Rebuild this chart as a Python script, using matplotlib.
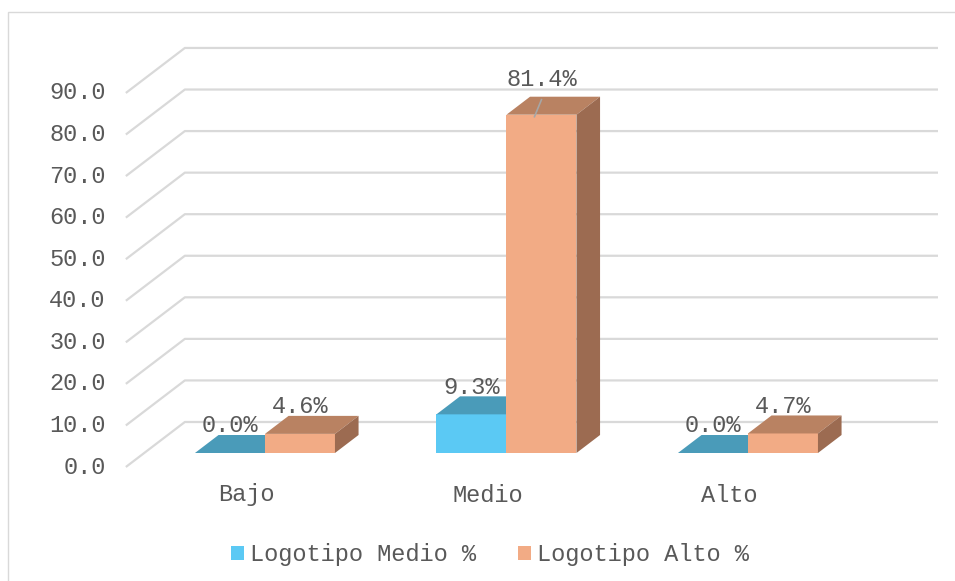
import matplotlib
matplotlib.use("Agg")
import matplotlib.pyplot as plt
from matplotlib.patches import Polygon, Rectangle, Patch

# data
categories = ["Bajo", "Medio", "Alto"]
series_names = ["Logotipo Medio %", "Logotipo Alto %"]
medio_vals = [0.0, 9.3, 0.0]
alto_vals = [4.6, 81.4, 4.7]
y_ticks = [0, 10, 20, 30, 40, 50, 60, 70, 80, 90]

# front / top / side colours of each series
blue = ("#5BC9F4", "#4A9BB9", "#3F7F99")
orange = ("#F2AB85", "#B98262", "#9C6B51")
grid_col = "#D9D9D9"
txt_col = "#595959"
FS = 17
plt.rcParams["font.family"] = ["Liberation Mono", "DejaVu Sans Mono"]

W, H = 955, 581
fig = plt.figure(figsize=(W / 100, H / 100), dpi=100)
ax = fig.add_axes([0, 0, 1, 1])

# front plane scale: px per category and px per value unit
x_px, y_px = 241.5, 4.156
x0_px, y0_px = 246.6, 467  # category 0 / value 0 on the front plane
ax.set_xlim(-x0_px / x_px, (W - x0_px) / x_px)
ax.set_ylim((y0_px - H) / y_px, y0_px / y_px)
ax.axis("off")

# pseudo 3d depth (full floor) in data units
dx, dy = 59 / x_px, 45 / y_px
f_front, f_back = 14 / 45, 32 / 45
bw = 70 / x_px
px_y = 1 / y_px
px_x = 1 / x_px

# back wall gridlines + tick labels
x_left = -0.5
x_right = (938 - x0_px) / x_px
for v in y_ticks:
    ax.plot([x_left, x_left + dx, x_right], [v, v + dy, v + dy],
            color=grid_col, lw=1.6, solid_capstyle="butt", zorder=1)
    ax.text(x_left - 20 * px_x, v, f"{v:.1f}", ha="right", va="center",
            fontsize=FS, color=txt_col)


def draw_box(xl, h, cols):
    ox, oy = dx * f_front, dy * f_front
    ddx, ddy = dx * (f_back - f_front), dy * (f_back - f_front)
    x1, x2 = xl + ox, xl + ox + bw
    b, t = oy, oy + h
    ax.add_patch(Polygon([(x1, b), (x2, b), (x2, t), (x1, t)],
                         closed=True, fc=cols[0], ec="none", zorder=3))
    ax.add_patch(Polygon([(x1, t), (x2, t), (x2 + ddx, t + ddy), (x1 + ddx, t + ddy)],
                         closed=True, fc=cols[1], ec="none", zorder=3))
    ax.add_patch(Polygon([(x2, b), (x2 + ddx, b + ddy), (x2 + ddx, t + ddy), (x2, t)],
                         closed=True, fc=cols[2], ec="none", zorder=3))
    return (x1 + x2) / 2, t, t + ddy


labels = []
for i in range(len(categories)):
    labels.append(draw_box(i - bw, medio_vals[i], blue) + (medio_vals[i],))
for i in range(len(categories)):
    labels.append(draw_box(i, alto_vals[i], orange) + (alto_vals[i],))

for cx, top_front, top_back, v in labels:
    lift = 9
    if v > 50:
        lift = 17
        ax.plot([cx, cx - 7 * px_x], [top_back - 3 * px_y, top_front - 2 * px_y],
                color="#A6A6A6", lw=1.2, zorder=4)
    ax.text(cx, top_back + lift * px_y, f"{v:.1f}%", ha="center", va="center",
            fontsize=FS, color=txt_col, zorder=5)

for i, c in enumerate(categories):
    ax.text(i, -28 * px_y, c, ha="center", va="center", fontsize=FS, color=txt_col)

handles = [Patch(fc=blue[0], ec="none"), Patch(fc=orange[0], ec="none")]
fig.legend(handles, series_names, loc="center", bbox_to_anchor=(490 / W, 26 / H),
           ncol=2, frameon=False, fontsize=FS, labelcolor=txt_col,
           handlelength=0.55, handleheight=0.55, handletextpad=0.25,
           columnspacing=1.8, borderpad=0)

fig.add_artist(Rectangle((8 / W, -0.1), 2, 1 - 12 / H + 0.1, transform=fig.transFigure,
                         fill=False, ec=grid_col, lw=1))

fig.savefig("out.png", dpi=100)
